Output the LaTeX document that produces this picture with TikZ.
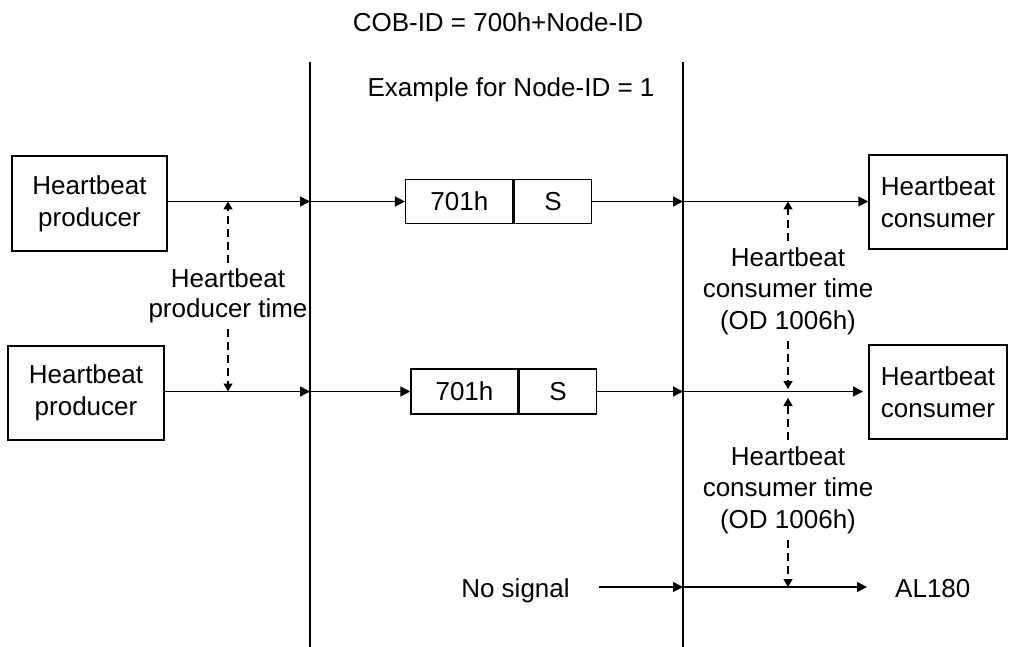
\documentclass[tikz,border=0pt]{standalone}
\usepackage{fontspec}
\setmainfont{Liberation Sans}
\usetikzlibrary{arrows.meta}
\begin{document}
\begin{tikzpicture}[x=1pt,y=-1pt,
  every node/.style={font=\fontsize{26}{32}\selectfont, inner sep=0pt},
  blk/.style={draw, line width=1.5pt, align=center},
  lbl/.style={align=center, inner sep=6pt},
  sig/.style={line width=1.5pt, -{Triangle[length=10pt,width=10pt]}},
  dsh/.style={line width=1.4pt, dash pattern=on 8pt off 5pt, -{Triangle[length=8pt,width=9pt]}},
  vline/.style={line width=1.5pt}]
\useasboundingbox (0,0) rectangle (1015,647);

% top texts
\node[anchor=base] (cob) at (498,32) {COB-ID = 700h+Node-ID};
\node[anchor=base] (ex) at (511,97) {Example for Node-ID = 1};

% vertical separators
\coordinate (vLt) at (310,62);
\coordinate (vLb) at (310,647);
\coordinate (vRt) at (683,62);
\coordinate (vRb) at (683,647);
\draw[vline] (vLt) -- (vLb);
\draw[vline] (vRt) -- (vRb);

% boxes
\node[blk, minimum width=155pt, minimum height=95pt] (prod1) at (89.5,203.5) {Heartbeat\\producer};
\node[blk, minimum width=156pt, minimum height=94pt] (prod2) at (86,393) {Heartbeat\\producer};
\node[blk, minimum width=138pt, minimum height=94pt] (cons1) at (938,202) {Heartbeat\\consumer};
\node[blk, minimum width=138pt, minimum height=94pt] (cons2) at (938,392) {Heartbeat\\consumer};

\node[blk, minimum width=107.3pt, minimum height=44pt] (mA1) at (459.35,201.5) {701h};
\node[blk, minimum width=77pt, minimum height=44pt, anchor=west] (mB1) at (mA1.east) {S};
\node[blk, minimum width=107pt, minimum height=45pt] (mA2) at (464.5,391.5) {701h};
\node[blk, minimum width=77pt, minimum height=45pt, anchor=west] (mB2) at (mA2.east) {S};

% row 1
\draw[sig] (prod1.east |- mA1.west) -- (mA1.west -| vLt);
\draw[sig] (mA1.west -| vLt) -- (mA1.west);
\draw[sig] (mB1.east) -- (mB1.east -| vRt);
\draw[sig] (mB1.east -| vRt) -- (cons1.west |- mB1.east);

% row 2
\draw[sig] (prod2.east |- mA2.west) -- (mA2.west -| vLt);
\draw[sig] (mA2.west -| vLt) -- (mA2.west);
\draw[sig] (mB2.east) -- (mB2.east -| vRt);
\coordinate (r2e) at (863,391.5);
\draw[sig] (mB2.east -| vRt) -- (r2e);

% row 3
\node[anchor=base] (nos) at (515.5,597) {No signal};
\node[anchor=base west] (al) at (895,597) {AL180};
\coordinate (r3s) at (599,587);
\coordinate (r3e) at (867,587);
\draw[sig] (r3s) -- (r3s -| vRt);
\draw[sig] (r3s -| vRt) -- (r3e);

% time labels
\node[lbl, font=\fontsize{26}{30}\selectfont] (ptime) at (228,296) {Heartbeat\\producer time};
\node[lbl, font=\fontsize{26}{31.5}\selectfont] (ctime1) at (788,291) {Heartbeat\\consumer time\\(OD 1006h)};
\node[lbl, font=\fontsize{26}{31.5}\selectfont] (ctime2) at (788,490) {Heartbeat\\consumer time\\(OD 1006h)};

\coordinate (p1) at (228,201.5);
\coordinate (p2) at (228,391.5);
\draw[dsh] (ptime.north) -- (p1);
\draw[dsh] (ptime.south) -- (p2);

\coordinate (c1) at (788,201.5);
\coordinate (c2) at (788,389);
\coordinate (c3) at (788,398);
\coordinate (c4) at (788,587);
\draw[dsh] (ctime1.north) -- (c1);
\draw[dsh] (ctime1.south) -- (c2);
\draw[dsh] (ctime2.north) -- (c3);
\draw[dsh] (ctime2.south) -- (c4);
\end{tikzpicture}
\end{document}
